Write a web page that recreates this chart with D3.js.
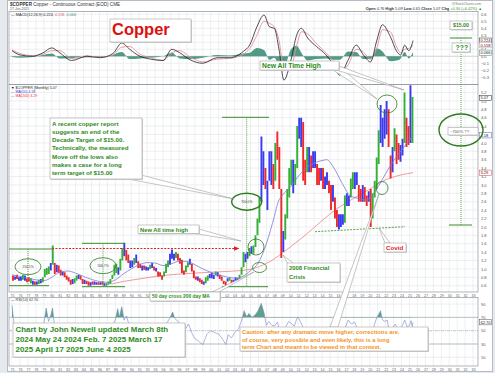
<!DOCTYPE html>
<html>
<head>
<meta charset="utf-8">
<script src="https://cdn.jsdelivr.net/npm/d3@7"></script>
<style>
  body { margin: 0; background: #fff; }
  svg { display: block; font-family: "Liberation Sans", Arial, sans-serif; }
</style>
</head>
<body>
<svg id="chart" width="495" height="373"></svg>
<script>
// --- DATOS ---
// barras trimestrales desde 1975 T1: mínimo / máximo ($/lb)
const startYear = 1975;
const qLow = [
  0.72,0.74,0.76,0.72, 0.72,0.74,0.72,0.68, 0.70,0.66,0.62,0.62, 0.62,0.64,0.66,0.68, // 75-78
  0.80,0.86,0.88,0.96, 1.10,0.88,0.92,0.90, 0.84,0.84,0.80,0.74, 0.70,0.62,0.64,0.66, // 79-82
  0.72,0.76,0.74,0.64, 0.64,0.64,0.60,0.60, 0.62,0.62,0.62,0.62, 0.62,0.62,0.60,0.60, // 83-86
  0.62,0.64,0.76,0.84, 0.90,0.86,0.96,1.20, 1.30,1.20,1.14,1.02, 1.04,1.10,1.14,1.02, // 87-90
  1.02,0.96,0.98,0.96, 0.96,1.00,1.02,0.96, 0.94,0.82,0.82,0.74, 0.82,0.90,1.04,1.10, // 91-94
  1.24,1.20,1.26,1.20, 1.12,0.90,0.86,0.92, 1.04,1.10,0.94,0.78, 0.74,0.72,0.68,0.64, // 95-98
  0.62,0.66,0.72,0.78, 0.78,0.76,0.84,0.82, 0.76,0.72,0.64,0.60, 0.70,0.72,0.66,0.68, // 99-02
  0.72,0.72,0.76,0.86, 1.04,1.16,1.24,1.30, 1.36,1.36,1.52,1.80, 2.10,2.60,3.00,2.90, // 03-06
  2.40,3.10,3.00,2.90, 3.10,3.60,2.90,1.26, 1.40,1.70,2.20,2.70, 3.00,2.80,3.00,3.40, // 07-10
  4.10,3.90,3.10,3.00, 3.30,3.30,3.30,3.40, 3.40,3.00,3.00,3.10, 2.90,2.90,3.00,2.80, // 11-14
  2.40,2.60,2.20,2.00, 1.94,2.00,2.05,2.10, 2.50,2.50,2.70,2.90, 2.90,3.00,2.60,2.60, // 15-18
  2.60,2.60,2.50,2.60, 2.00,2.20,2.70,2.90, 3.50,4.00,3.90,4.10, 4.20,3.90,3.15,3.30, // 19-22
  3.80,3.50,3.60,3.55, 3.70,4.00,3.90,3.95, 4.00,4.00                                  // 23-25
];
const qHigh = [
  0.84,0.82,0.86,0.80, 0.82,0.86,0.84,0.78, 0.80,0.78,0.72,0.70, 0.70,0.74,0.76,0.80,
  1.00,1.02,1.06,1.14, 1.56,1.14,1.10,1.08, 0.98,0.94,0.92,0.84, 0.80,0.74,0.76,0.78,
  0.84,0.86,0.84,0.76, 0.74,0.72,0.70,0.68, 0.70,0.70,0.68,0.68, 0.68,0.70,0.66,0.66,
  0.70,0.76,0.86,1.10, 1.12,1.04,1.24,1.50, 1.62,1.45,1.34,1.20, 1.20,1.26,1.34,1.18,
  1.12,1.08,1.08,1.06, 1.04,1.10,1.14,1.06, 1.02,0.94,0.92,0.84, 0.94,1.12,1.20,1.36,
  1.46,1.36,1.40,1.36, 1.26,1.22,0.96,1.08, 1.16,1.24,1.12,0.96, 0.82,0.82,0.78,0.74,
  0.70,0.80,0.84,0.88, 0.90,0.86,0.94,0.92, 0.86,0.82,0.72,0.70, 0.78,0.80,0.74,0.74,
  0.80,0.78,0.86,1.04, 1.40,1.36,1.40,1.50, 1.54,1.56,1.80,2.20, 2.70,4.15,3.80,3.40,
  3.10,3.80,3.80,3.50, 4.00,4.27,3.90,2.90, 1.90,2.30,2.90,3.40, 3.60,3.60,3.50,4.40,
  4.60,4.60,4.50,3.60, 3.90,3.90,3.70,3.80, 3.80,3.50,3.40,3.40, 3.40,3.20,3.30,3.10,
  3.00,3.00,2.70,2.40, 2.30,2.30,2.30,2.75, 2.80,2.75,3.15,3.30, 3.30,3.30,3.00,2.90,
  3.00,2.95,2.75,2.85, 2.90,2.80,3.10,3.65, 4.30,4.90,4.60,4.80, 5.00,4.80,3.70,3.90,
  4.35,4.20,4.00,3.95, 4.10,5.20,4.60,4.40, 5.37,5.09
];
// g = verde, r = rojo, b = azul (por trimestre)
const qColor = ("rbrb bgbr rgbr bgbg gggb grbr rbrr rrbg gbrr brrb rbbr brbg gggg gbgg brrb bgbr " +
  "rbrb bgbr brrr gggb bbgr rrrg gbrr rbrr bggb bbgb rrrr bgrb bbgg gbbg bggg gbbr " +
  "bbbr grrr bggg gbgg bbrr gbrb brrb rbbr rbrr bbbg bbgg bbrr brrb rggg gbbb brrb grrb bgrr bg").replace(/ /g, "");

const ma50Years  = [1975,1976,1977,1978,1979,1980,1981,1982,1983,1984,1985,1986,1987,1988,1989,1990,1991,1992,1993,1994,1995,1996,1997,1998,1999,2000,2001,2002,2003,2004,2005,2006,2007,2008,2008.5,2009,2010,2011,2012,2013,2014,2014.6,2015.5,2016.5,2017.5,2018.5,2019.5,2020.8,2021.5,2022.5,2023.5,2024.5,2025.45];
const ma50Values = [0.86,0.82,0.78,0.74,0.72,0.80,0.92,0.95,0.90,0.82,0.75,0.70,0.68,0.74,0.88,1.00,1.10,1.15,1.14,1.08,1.12,1.18,1.18,1.10,1.00,0.92,0.86,0.81,0.78,0.82,0.96,1.15,1.60,2.25,2.60,2.75,2.95,3.20,3.40,3.52,3.58,3.60,3.40,3.05,2.75,2.68,2.64,2.88,3.10,3.43,3.70,3.95,4.18];

const ma200Years  = [1987.5,1989,1991,1993,1995,1997,1999,2001,2003,2005,2006,2007,2008,2009,2010,2012,2014,2016,2018,2020,2022,2024,2025.45];
const ma200Values = [0.64,0.70,0.76,0.82,0.86,0.89,0.91,0.93,0.95,0.99,1.05,1.13,1.24,1.38,1.52,1.82,2.15,2.45,2.68,2.90,3.12,3.24,3.29];

const macdYears  = [1975.0,1976.0,1977.6,1978.9,1980.0,1981.0,1982.5,1984.4,1986.1,1987.7,1988.8,1989.8,1991.1,1992.4,1994.0,1995.1,1996.1,1997.4,1999.0,2000.8,2002.4,2004.1,2004.9,2005.8,2006.7,2007.4,2008.0,2008.6,2009.2,2010.1,2010.8,2011.4,2012.2,2013.3,2014.5,2015.6,2016.2,2017.3,2018.3,2019.2,2020.1,2020.9,2021.6,2022.6,2023.4,2023.9,2024.4,2024.9,2025.45];
const macdLine   = [0.08,0.02,0.0,0.05,0.12,0.05,-0.06,0.0,-0.02,0.04,0.19,0.1,0.0,-0.04,-0.06,0.1,0.05,-0.05,-0.1,-0.02,-0.02,0.07,0.16,0.42,0.59,0.42,0.4,0.09,-0.34,-0.05,0.3,0.4,0.26,0.14,0.02,-0.15,-0.27,-0.05,0.16,0.02,-0.08,0.23,0.45,0.28,0.07,0.02,0.16,0.08,0.224];
const macdSignal = [0.09,0.04,0.01,0.03,0.08,0.08,-0.03,-0.01,-0.01,0.02,0.13,0.14,0.03,-0.02,-0.06,0.05,0.08,-0.01,-0.08,-0.04,-0.03,0.03,0.11,0.3,0.5,0.47,0.42,0.22,-0.18,-0.15,0.15,0.35,0.32,0.18,0.05,-0.1,-0.22,-0.12,0.1,0.06,-0.04,0.12,0.38,0.35,0.13,0.05,0.1,0.11,0.158];
const macdHist   = [-0.01,-0.02,-0.01,0.02,0.04,-0.03,-0.03,0.01,-0.01,0.02,0.06,-0.04,-0.03,-0.02,0.0,0.05,-0.03,-0.04,-0.02,0.02,0.01,0.04,0.05,0.12,0.09,-0.05,-0.02,-0.13,-0.16,0.1,0.15,0.05,-0.06,-0.04,-0.03,-0.05,-0.05,0.07,0.06,-0.04,-0.04,0.11,0.07,-0.07,-0.06,-0.03,0.06,-0.03,0.066];

const rsiYears  = [1975.0,1975.25,1975.6,1976.0,1976.5,1977.0,1977.5,1978.0,1978.5,1979.0,1979.3,1979.6,1979.9,1980.1,1980.3,1980.7,1981.2,1981.7,1982.2,1982.7,1983.2,1983.7,1984.2,1984.7,1985.2,1985.7,1986.2,1986.7,1987.2,1987.6,1988.0,1988.3,1988.5,1988.8,1989.1,1989.4,1989.8,1990.2,1990.6,1991.0,1991.5,1992.0,1992.5,1993.0,1993.5,1994.0,1994.5,1994.9,1995.2,1995.5,1995.9,1996.4,1996.8,1997.2,1997.6,1998.0,1998.5,1999.0,1999.5,2000.0,2000.5,2001.0,2001.5,2001.9,2002.2,2002.6,2003.0,2003.5,2003.9,2004.2,2004.5,2004.8,2005.2,2005.6,2005.9,2006.1,2006.35,2006.7,2007.0,2007.3,2007.7,2008.0,2008.4,2008.8,2009.0,2009.4,2009.8,2010.2,2010.5,2010.9,2011.1,2011.5,2011.9,2012.3,2012.8,2013.3,2013.8,2014.3,2014.8,2015.3,2015.8,2016.1,2016.6,2017.0,2017.3,2017.7,2018.1,2018.5,2018.9,2019.4,2019.9,2020.2,2020.6,2020.9,2021.1,2021.35,2021.6,2021.9,2022.2,2022.5,2022.9,2023.2,2023.6,2023.9,2024.2,2024.4,2024.7,2025.0,2025.2,2025.35,2025.45];
const rsiValues = [88,60,54,48,57,49,42,44,52,60,84,64,74,84,62,55,45,40,36,40,50,44,38,35,39,40,37,43,48,58,66,83,70,86,66,72,56,52,60,48,45,48,51,42,36,48,62,70,78,68,64,46,52,60,47,38,34,29,44,50,47,45,37,29,44,39,47,53,66,80,71,76,70,74,79,84,91,77,58,64,58,57,63,40,30,55,64,60,57,70,68,58,48,52,50,44,47,43,44,40,33,35,45,57,66,60,63,52,46,44,48,37,60,70,74,80,66,64,66,46,54,60,52,54,60,66,56,58,65,56,62.7];

const yearTicks  = d3.range(1975, 2034);
const priceTicks = [0.6,0.8,1.0,1.2,1.4,1.6,1.8,2.0,2.2,2.4,2.6,2.8,3.0,3.2,3.4,3.6,3.8,4.0,4.2,4.4,4.6,4.8,5.0,5.2];
const macdTicks  = [-0.3,-0.2,-0.1,0.0,0.1,0.2,0.3,0.4,0.5,0.6];
const rsiTicks   = [10,30,50,70,90];

// --- CONFIGURACIÓN ---
const W = 495, H = 373, L = 9, R = 478;
const M = { top: 11.5, bottom: 84.5 };   // panel MACD
const P = { top: 84.5, bottom: 292 };    // panel precio
const S = { top: 297.5, bottom: 366 };   // panel RSI

const x  = d3.scaleLinear().domain([1974.62, 2033.62]).range([L, R]);
const yM = d3.scaleLinear().domain([-0.403, 0.64]).range([M.bottom, M.top]);
const yP = d3.scaleLinear().domain([0.45, 5.39]).range([P.bottom, P.top]);
const yR = d3.scaleLinear().domain([-3.1, 99.9]).range([S.bottom, S.top]);

const GREEN = "#2e8b22", ORANGE = "#f39323";
const svg = d3.select("#chart");

// marco de página
svg.append("rect").attr("width", W).attr("height", H).attr("fill", "#e6eaee");
svg.append("rect").attr("x", 7.5).attr("y", 0.5).attr("width", 485).attr("height", 371)
  .attr("fill", "#fff").attr("stroke", "#b5bcc4");

const defs = svg.append("defs");
function panel(id, box, yScale, hTicks) {
  defs.append("clipPath").attr("id", id).append("rect")
    .attr("x", L).attr("y", box.top).attr("width", R - L).attr("height", box.bottom - box.top);
  const g = svg.append("g");
  g.selectAll(".v").data(yearTicks).join("line")
    .attr("x1", d => x(d)).attr("x2", d => x(d)).attr("y1", box.top).attr("y2", box.bottom)
    .attr("stroke", "#e1e5ea").attr("stroke-width", 0.6);
  g.selectAll(".h").data(hTicks).join("line")
    .attr("x1", L).attr("x2", R).attr("y1", d => yScale(d)).attr("y2", d => yScale(d))
    .attr("stroke", "#e1e5ea").attr("stroke-width", 0.6);
  const ax = svg.append("g").attr("transform", `translate(${R + 2},0)`)
    .call(d3.axisRight(yScale).tickValues(hTicks).tickSize(0).tickPadding(1)
      .tickFormat(id === "cr" ? d3.format("d") : d3.format(".1f")));
  ax.select(".domain").remove();
  ax.selectAll("text").attr("font-size", 4).attr("fill", "#555");
  return g;
}
function frame(box) {
  svg.append("rect").attr("x", L).attr("y", box.top).attr("width", R - L).attr("height", box.bottom - box.top)
    .attr("fill", "none").attr("stroke", "#8f959c").attr("stroke-width", 0.7);
}

// --- PANEL MACD ---
panel("cm", M, yM, macdTicks);
const gM = svg.append("g").attr("clip-path", "url(#cm)");
gM.append("line").attr("x1", L).attr("x2", R).attr("y1", yM(0)).attr("y2", yM(0)).attr("stroke", "#b8bcc0").attr("stroke-width", 0.5);
gM.append("path").datum(macdYears)
  .attr("d", d3.area().curve(d3.curveMonotoneX).x(d => x(d)).y0(yM(0)).y1((d, i) => yM(macdHist[i])))
  .attr("fill", "#3f8f78").attr("opacity", 0.9);
gM.append("path").datum(macdYears)
  .attr("d", d3.line().curve(d3.curveMonotoneX).x(d => x(d)).y((d, i) => yM(macdSignal[i])))
  .attr("fill", "none").attr("stroke", "#e3929b").attr("stroke-width", 0.9);
gM.append("path").datum(macdYears)
  .attr("d", d3.line().curve(d3.curveMonotoneX).x(d => x(d)).y((d, i) => yM(macdLine[i])))
  .attr("fill", "none").attr("stroke", "#222").attr("stroke-width", 0.8);
frame(M);

// --- PANEL PRECIO ---
panel("cp", P, yP, priceTicks);
const gP = svg.append("g").attr("clip-path", "url(#cp)");
const barColor = { g: "#35b035", r: "#f02828", b: "#3a3af0" };
const bars = qLow.map((lo, i) => ({ t: startYear + i / 4 + 0.125, lo, hi: qHigh[i], c: qColor[i] }));
gP.append("path").datum(ma200Years)
  .attr("d", d3.line().curve(d3.curveMonotoneX).x(d => x(d)).y((d, i) => yP(ma200Values[i])))
  .attr("fill", "none").attr("stroke", "#ee8080").attr("stroke-width", 0.8);
gP.selectAll(".bar").data(bars).join("line")
  .attr("x1", d => x(d.t)).attr("x2", d => x(d.t))
  .attr("y1", d => yP(d.lo)).attr("y2", d => yP(d.hi))
  .attr("stroke", d => barColor[d.c]).attr("stroke-width", 1.9);
gP.append("path").datum(ma50Years)
  .attr("d", d3.line().curve(d3.curveMonotoneX).x(d => x(d)).y((d, i) => yP(ma50Values[i])))
  .attr("fill", "none").attr("stroke", "#7878d0").attr("stroke-width", 0.8);
frame(P);

// --- PANEL RSI ---
panel("cr", S, yR, rsiTicks);
defs.append("clipPath").attr("id", "cr70").append("rect")
  .attr("x", L).attr("y", S.top).attr("width", R - L).attr("height", yR(70) - S.top);
const gR = svg.append("g").attr("clip-path", "url(#cr)");
[70, 30].forEach(v => gR.append("line").attr("x1", L).attr("x2", R).attr("y1", yR(v)).attr("y2", yR(v))
  .attr("stroke", "#9ea3a8").attr("stroke-width", 0.6));
gR.append("line").attr("x1", L).attr("x2", R).attr("y1", yR(50)).attr("y2", yR(50))
  .attr("stroke", "#9ea3a8").attr("stroke-width", 0.5).attr("stroke-dasharray", "3,1,1,1");
svg.append("path").attr("clip-path", "url(#cr70)").datum(rsiYears)
  .attr("d", d3.area().x(d => x(d)).y0(yR(70)).y1((d, i) => yR(rsiValues[i])))
  .attr("fill", "#5f9f8f");
gR.append("path").datum(rsiYears)
  .attr("d", d3.line().x(d => x(d)).y((d, i) => yR(rsiValues[i])))
  .attr("fill", "none").attr("stroke", "#7b82c8").attr("stroke-width", 0.6);
frame(S);

// ejes de años
[P.bottom + 1, S.bottom + 0.5].forEach(yy => {
  const ax = svg.append("g").attr("transform", `translate(0,${yy})`)
    .call(d3.axisBottom(x).tickValues(yearTicks).tickSize(0).tickPadding(1.5)
      .tickFormat(d => String(d % 100).padStart(2, "0")));
  ax.select(".domain").remove();
  ax.selectAll("text").attr("font-size", 3.6).attr("fill", "#666");
});

// valores en el eje derecho
function tag(yy, txt, stroke) {
  svg.append("rect").attr("x", R + 1.5).attr("y", yy - 2.6).attr("width", 12).attr("height", 5.2)
    .attr("fill", "#fff").attr("stroke", stroke).attr("stroke-width", 0.5);
  svg.append("text").attr("x", R + 2.5).attr("y", yy + 1.4).attr("font-size", 4).attr("fill", "#222").text(txt);
}
tag(yM(macdLine[macdLine.length - 1]), "0.224", "#222");
tag(yM(macdSignal[macdSignal.length - 1]), "0.158", "#e3929b");
tag(yM(macdHist[macdHist.length - 1]) + 1, "0.066", "#3f8f78");
tag(yP(5.07), "5.07", "#222");
tag(yP(ma50Values[ma50Values.length - 1]), "4.18", "#5a5ad0");
tag(yP(ma200Values[ma200Values.length - 1]), "3.29", "#e44");
tag(yR(rsiValues[rsiValues.length - 1]), "62.70", "#555");

// --- CABECERAS ---
const head = svg.append("text").attr("x", 10).attr("y", 6).attr("font-size", 4.6).attr("fill", "#333");
head.append("tspan").attr("font-weight", "bold").text("$COPPER");
head.append("tspan").text(" Copper - Continuous Contract (EOD) CME");
svg.append("text").attr("x", 10).attr("y", 10.3).attr("font-size", 3.4).attr("fill", "#555").text("27-Jun-2025");
svg.append("text").attr("x", 481).attr("y", 4.8).attr("text-anchor", "end").attr("font-size", 3.4).attr("fill", "#777").text("@StockCharts.com");
const ohlc = svg.append("text").attr("x", 482).attr("y", 10).attr("text-anchor", "end").attr("font-size", 3.9).attr("fill", "#333");
[["Open", " 4.76 "], ["High", " 5.09 "], ["Low", " 4.65 "], ["Close", " 5.07 "], ["Chg", " +0.30 (+6.42%) \u25B2"]].forEach(([k, v]) => {
  ohlc.append("tspan").attr("font-weight", "bold").text(k);
  ohlc.append("tspan").attr("fill", k === "Chg" ? "#2a9a2a" : "#333").text(v);
});
const ml = svg.append("text").attr("x", 11).attr("y", 15.5).attr("font-size", 3.8);
ml.append("tspan").attr("fill", "#222").text("\u2014 MACD(12,26,9) 0.224, ");
ml.append("tspan").attr("fill", "#d0606c").text("0.158, ");
ml.append("tspan").attr("fill", "#3f8f78").text("0.066");
svg.append("text").attr("x", 11).attr("y", 88.5).attr("font-size", 3.6).attr("fill", "#222").text("\u25BC $COPPER (Monthly) 5.07");
svg.append("text").attr("x", 11).attr("y", 92.5).attr("font-size", 3.6).attr("fill", "#3a3ad0").text("\u2014 MA(50) 4.18");
svg.append("text").attr("x", 11).attr("y", 96.5).attr("font-size", 3.6).attr("fill", "#e33").text("\u2014 MA(200) 3.29");
svg.append("text").attr("x", 11).attr("y", 301).attr("font-size", 3.6).attr("fill", "#333").text("\u2014 RSI(14) 62.70");

// --- ANOTACIONES ---
const ann = svg.append("g");
function hline(x1, x2, yy, dash) {
  ann.append("line").attr("x1", x1).attr("x2", x2).attr("y1", yy).attr("y2", yy)
    .attr("stroke", "#3d8a2a").attr("stroke-width", 1).attr("stroke-dasharray", dash || null);
}
function vdots(xx, y1, y2) {
  ann.append("line").attr("x1", xx).attr("x2", xx).attr("y1", y1).attr("y2", y2)
    .attr("stroke", "#4a9a36").attr("stroke-width", 0.9).attr("stroke-dasharray", "1,1");
}
function ellipse(cx, cy, rx, ry, sw, txt) {
  ann.append("ellipse").attr("cx", cx).attr("cy", cy).attr("rx", rx).attr("ry", ry)
    .attr("fill", "none").attr("stroke", "#2f7a1e").attr("stroke-width", sw);
  if (txt) ann.append("text").attr("x", cx).attr("y", cy + 1.2).attr("text-anchor", "middle")
    .attr("font-size", 3.4).attr("fill", "#444").text(txt);
}
function pointer(pts) {
  ann.append("polygon").attr("points", pts.map(p => p.join(",")).join(" "))
    .attr("fill", "#fff").attr("stroke", "#8d8d8d").attr("stroke-width", 0.5);
}
function textBox(x0, y0, w, h, lines, o) {
  ann.append("rect").attr("x", x0 + 1).attr("y", y0 + 1).attr("width", w).attr("height", h).attr("fill", "#d2d2d2");
  ann.append("rect").attr("x", x0).attr("y", y0).attr("width", w).attr("height", h)
    .attr("fill", "#fff").attr("stroke", "#a5a5a5").attr("stroke-width", 0.6);
  const t = ann.append("text").attr("font-size", o.size).attr("font-weight", o.weight || "bold").attr("fill", o.color);
  lines.forEach((s, i) => t.append("tspan").attr("x", x0 + (o.pad || 2)).attr("y", o.base + i * (o.lh || 0)).text(s));
}

// patrones de medición
hline(L, 52, 249); hline(L, 49, 285.7); vdots(28, 249, 285.7);
hline(82, 125, 243.3); hline(82, 125, 286.7); vdots(103, 243.3, 286.7);
hline(222, 269, 117.3); hline(222, 268, 286.7); vdots(246.7, 117.3, 286.7);
hline(450, 472, 38); hline(449, 472, 225); vdots(461, 38, 225);
hline(315, 405, 0, null);
ann.select("line:last-child").remove();
ann.append("line").attr("x1", 315).attr("y1", 231.7).attr("x2", 405).attr("y2", 226.7)
  .attr("stroke", "#4a9a36").attr("stroke-width", 0.9).attr("stroke-dasharray", "2,1.2");

// flecha roja discontinua
ann.append("line").attr("x1", 52).attr("x2", 235).attr("y1", 248.5).attr("y2", 248.5)
  .attr("stroke", "#e02020").attr("stroke-width", 1).attr("stroke-dasharray", "2,1.4");
ann.append("polygon").attr("points", "234,246.3 239.5,248.5 234,250.7").attr("fill", "#e02020");

ellipse(28, 266.7, 13, 8, 0.8, "150.5%");
ellipse(103, 265.7, 13, 8, 0.8, "166.7%");
ellipse(246.7, 201.7, 15, 8.5, 1.4, "700.0%");
ellipse(461, 130, 22, 16, 1.4);
ellipse(387, 104, 10, 9, 0.8);
ellipse(256, 247, 8, 8, 0.8);
ellipse(259.5, 267.5, 7, 5, 0.8);
ellipse(382, 188, 6, 6.5, 0.8);

// punteros
pointer([[128, 179], [141, 175], [234, 199]]);
pointer([[333, 70], [339, 66], [377, 99]]);
pointer([[336, 70], [339, 66], [404, 90]]);
pointer([[195, 233.5], [199, 229], [241, 241]]);
pointer([[212, 292], [219, 292], [254, 272]]);
pointer([[288, 264], [294, 264], [283, 255]]);
pointer([[385, 243], [390, 243], [379, 228]]);
pointer([[330, 327], [338, 327], [379, 194]]);

// cajas de texto
textBox(110, 19, 81, 23, ["Copper"], { size: 16.5, color: "#dd1111", base: 35, pad: 2 });
textBox(450, 21, 22, 8.5, ["$15.00"], { size: 5.2, color: GREEN, base: 27.2, pad: 3 });
textBox(452, 43, 18, 9, ["???"], { size: 6.8, color: GREEN, base: 50.3, pad: 3.6 });
textBox(448, 127.5, 30, 7.5, ["~700% ??"], { size: 4.2, color: "#555", base: 132.8, pad: 2, weight: "normal" });
textBox(260, 61, 79, 9, ["New All Time High"], { size: 6.8, color: GREEN, base: 68, pad: 2 });
textBox(50, 118, 92, 61, [
  "A recent copper report",
  "suggests an end of the",
  "Decade Target of $15.00.",
  "Technically, the measured",
  "Move off the lows also",
  "makes a case for a long",
  "term target of $15.00"], { size: 6.2, color: GREEN, base: 125.5, lh: 8.33, pad: 2 });
textBox(138, 225, 61, 8.5, ["New All time high"], { size: 5.8, color: GREEN, base: 231.6, pad: 2 });
textBox(150, 292, 70, 9, ["50 day cross 200 day MA"], { size: 4.9, color: GREEN, base: 298.4, pad: 2 });
textBox(287, 263, 53, 19, ["2008 Financial", "Crisis"], { size: 5.9, color: GREEN, base: 269.8, lh: 9, pad: 2 });
textBox(384, 243, 22, 9, ["Covid"], { size: 6.2, color: "#e02020", base: 250, pad: 2 });
textBox(13, 323, 172, 34, [
  "Chart by John Newell updated March 8th",
  "2024 May 24 2024 Feb. 7 2025 March 17",
  "2025 April 17 2025 June 4 2025"], { size: 7.9, color: GREEN, base: 332.2, lh: 10, pad: 2.5 });
textBox(240, 327, 188, 24, [
  "Caution: after any dramatic move higher, corrections are,",
  "of course, very possible and even likely, this is a long",
  "term Chart and meant to be viewed in that context."], { size: 5.8, color: ORANGE, base: 334.3, lh: 7.4, pad: 2 });
</script>
</body>
</html>
